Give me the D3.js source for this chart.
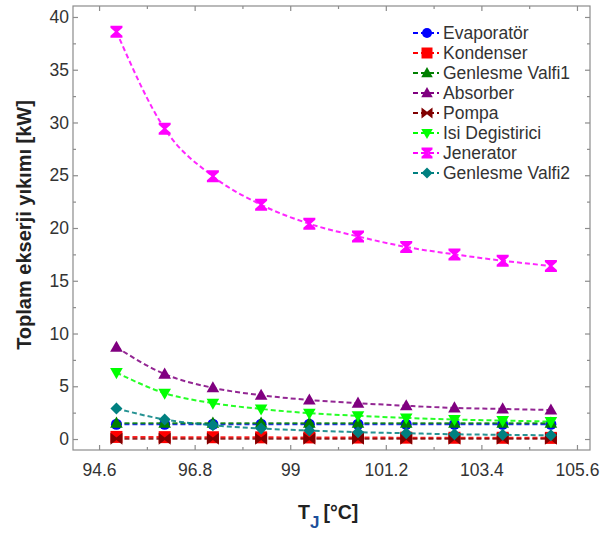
<!DOCTYPE html>
<html><head><meta charset="utf-8">
<script src="https://cdn.jsdelivr.net/npm/d3@7"></script>
<style>body{margin:0;background:#fff}svg{display:block}text{font-family:Arial,"Liberation Sans",sans-serif}</style>
</head><body><svg id="c" width="600" height="543"></svg>
<script>
const tempValues = [95, 96.11, 97.22, 98.33, 99.44, 100.56, 101.67, 102.78, 103.89, 105];
const evaporator = [1.4, 1.4, 1.4, 1.4, 1.4, 1.4, 1.4, 1.4, 1.4, 1.4];
const kondenser = [0.2, 0.18, 0.17, 0.16, 0.15, 0.14, 0.13, 0.12, 0.12, 0.11];
const genlesmeValfi1 = [1.5, 1.5, 1.5, 1.5, 1.5, 1.5, 1.5, 1.5, 1.5, 1.5];
const absorber = [8.7, 6.15, 4.85, 4.15, 3.7, 3.4, 3.15, 2.95, 2.85, 2.75];
const pompa = [0.03, 0.03, 0.03, 0.03, 0.03, 0.03, 0.03, 0.03, 0.03, 0.03];
const isiDegistirici = [6.3, 4.35, 3.4, 2.85, 2.45, 2.2, 2.0, 1.85, 1.75, 1.65];
const jenerator = [38.6, 29.4, 24.9, 22.2, 20.4, 19.2, 18.2, 17.5, 16.9, 16.4];
const genlesmeValfi2 = [2.9, 1.85, 1.3, 1.0, 0.8, 0.65, 0.55, 0.45, 0.4, 0.35];
const seriesNames = ["Evaporatör","Kondenser","Genlesme Valfi1","Absorber","Pompa","Isi Degistirici","Jenerator","Genlesme Valfi2"];
const xTickLabels = [94.6, 96.8, 99, 101.2, 103.4, 105.6];
const yTickLabels = [0, 5, 10, 15, 20, 25, 30, 35, 40];

const seriesValues = [evaporator, kondenser, genlesmeValfi1, absorber, pompa, isiDegistirici, jenerator, genlesmeValfi2];
const colors = ["#0000ff","#ff0000","#008000","#800080","#800000","#00ff00","#ff00ff","#008080"];
const markers = ["circle","square","triUp","triUp","bowtie","triDown","hourglass","diamond"];

const svg = d3.select("#c");
const L = 73, R = 590, T = 6, B = 450;
const x = d3.scaleLinear().domain([94, 105.9]).range([L, R]);
const y = d3.scaleLinear().domain([-1.04, 41.04]).range([B, T]);

function markerPath(type, s) {
  const h = s / 2;
  switch (type) {
    case "circle": return null;
    case "square": return `M${-h},${-h}H${h}V${h}H${-h}Z`;
    case "triUp": return `M0,${-h*1.1}L${h*1.05},${h*0.75}L${-h*1.05},${h*0.75}Z`;
    case "triDown": return `M0,${h*1.1}L${h*1.05},${-h*0.75}L${-h*1.05},${-h*0.75}Z`;
    case "diamond": return `M0,${-h}L${h},0L0,${h}L${-h},0Z`;
    case "bowtie": return `M${-h},${-h}L0,-1.2L${h},${-h}V${h}L0,1.2L${-h},${h}Z`;
    case "hourglass": return `M${-h},${-h}H${h}V${-h+2}L1.5,0L${h},${h-2}V${h}H${-h}V${h-2}L-1.5,0L${-h},${-h+2}Z`;
  }
}
function drawMarker(g, type, color, cx, cy, s) {
  if (type === "circle") {
    g.append("circle").attr("cx", cx).attr("cy", cy).attr("r", s/2 - 0.5).attr("fill", color);
  } else {
    g.append("path").attr("d", markerPath(type, s)).attr("transform", `translate(${cx},${cy})`).attr("fill", color);
  }
}

// frame
svg.append("rect").attr("x", L).attr("y", T).attr("width", R-L).attr("height", B-T)
  .attr("fill", "none").attr("stroke", "#8c8c8c").attr("stroke-width", 1.2);

// axes
const minorX = xTickLabels.slice(0, -1).map((v, i) => (v + xTickLabels[i+1]) / 2);
const minorY = yTickLabels.slice(0, -1).map((v, i) => (v + yTickLabels[i+1]) / 2);

function styleAxis(g) {
  g.select(".domain").remove();
  g.selectAll(".tick line").attr("stroke", "#8c8c8c").attr("stroke-width", 1.2);
  g.selectAll(".tick text").attr("fill", "#333").attr("font-size", 17.5);
}
svg.append("g").attr("transform", `translate(0,${B})`)
  .call(d3.axisBottom(x).tickValues(xTickLabels).tickSize(-5).tickPadding(14).tickFormat(d => d3.format("")(d)))
  .call(styleAxis);
svg.append("g").attr("transform", `translate(0,${B})`)
  .call(d3.axisBottom(x).tickValues(minorX).tickSize(-3).tickFormat("")).call(styleAxis);
svg.append("g").attr("transform", `translate(0,${T})`)
  .call(d3.axisTop(x).tickValues(xTickLabels).tickSize(-5).tickFormat("")).call(styleAxis);
svg.append("g").attr("transform", `translate(0,${T})`)
  .call(d3.axisTop(x).tickValues(minorX).tickSize(-3).tickFormat("")).call(styleAxis);
svg.append("g").attr("transform", `translate(${L},0)`)
  .call(d3.axisLeft(y).tickValues(yTickLabels).tickSize(-5).tickPadding(4)).call(styleAxis);
svg.append("g").attr("transform", `translate(${L},0)`)
  .call(d3.axisLeft(y).tickValues(minorY).tickSize(-3).tickFormat("")).call(styleAxis);
svg.append("g").attr("transform", `translate(${R},0)`)
  .call(d3.axisRight(y).tickValues(yTickLabels).tickSize(-5).tickFormat("")).call(styleAxis);
svg.append("g").attr("transform", `translate(${R},0)`)
  .call(d3.axisRight(y).tickValues(minorY).tickSize(-3).tickFormat("")).call(styleAxis);

// series
const line = d3.line().x(d => x(d[0])).y(d => y(d[1])).curve(d3.curveMonotoneX);
seriesValues.forEach((vals, i) => {
  const pts = tempValues.map((t, j) => [t, vals[j]]);
  svg.append("path").datum(pts).attr("d", line).attr("fill", "none")
    .attr("stroke", colors[i]).attr("stroke-width", 2).attr("stroke-dasharray", "5,3").attr("opacity", 0.85);
  const g = svg.append("g");
  pts.forEach(p => drawMarker(g, markers[i], colors[i], x(p[0]), y(p[1]), 12));
});

// legend
const lg = svg.append("g");
seriesNames.forEach((name, i) => {
  const cy = 33 + i * 20;
  lg.append("line").attr("x1", 413).attr("x2", 439).attr("y1", cy).attr("y2", cy)
    .attr("stroke", colors[i]).attr("stroke-width", 2).attr("stroke-dasharray", "5,3");
  drawMarker(lg, markers[i], colors[i], 427, cy, 11);
  lg.append("text").attr("x", 443).attr("y", cy + 6).attr("font-size", 17.5).attr("fill", "#333").text(name);
});

// axis titles
svg.append("text").attr("transform", "translate(31,225) rotate(-90)").attr("text-anchor", "middle")
  .attr("font-size", 20).attr("font-weight", "bold").attr("fill", "#222").text("Toplam ekserji yıkımı [kW]");
const xt = svg.append("text").attr("x", 298).attr("y", 519).attr("font-size", 19.5).attr("font-weight", "bold").attr("fill", "#222");
xt.append("tspan").text("T");
xt.append("tspan").attr("dy", 9).attr("font-size", 17).attr("fill", "#1d4f9a").text("J");
xt.append("tspan").attr("dy", -9).attr("dx", 4).text("[°C]");
</script></body></html>
